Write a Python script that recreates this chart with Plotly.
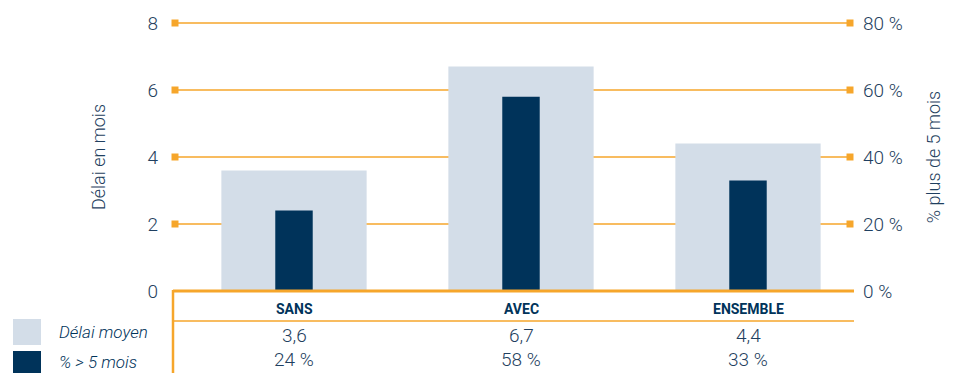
import plotly.graph_objects as go

categories = ["SANS", "AVEC", "ENSEMBLE"]
delai_moyen = [3.6, 6.7, 4.4]
pct_plus_5 = [24, 58, 33]
delai_labels = ["3,6", "6,7", "4,4"]
pct_labels = ["24 %", "58 %", "33 %"]
left_ticks = [0, 2, 4, 6, 8]
right_ticks = [0, 20, 40, 60, 80]
right_tick_labels = ["0 %", "20 %", "40 %", "60 %", "80 %"]

LIGHT = "#d3dde8"
DARK = "#00335a"
TEXT = "#1f3f60"
ORANGE = "#f6a62b"
FONT = "Roboto, sans-serif"

W, H = 959, 373
ML, MR, MT, MB = 175, 109, 23, 82
PW, PH = W - ML - MR, H - MT - MB
YMAX = left_ticks[-1]

def px_x(p):
    return (p - ML) / PW

def px_y(p):
    return (H - MB - p) / PH

x_idx = list(range(len(categories)))
r0 = -(294 - ML) / 227.0
r1 = r0 + PW / 227.0

fig = go.Figure()
fig.add_trace(go.Bar(x=x_idx, y=delai_moyen, width=0.64, marker_color=LIGHT,
                     marker_line_width=0, yaxis="y", showlegend=False, hoverinfo="skip"))
fig.add_trace(go.Bar(x=x_idx, y=pct_plus_5, width=0.165, marker_color=DARK,
                     marker_line_width=0, yaxis="y2", showlegend=False, hoverinfo="skip"))

mx, my = [], []
for t in left_ticks[1:]:
    mx += [r0, r1]
    my += [t, t]
fig.add_trace(go.Scatter(x=mx, y=my, mode="markers", marker=dict(symbol="square", size=7, color=ORANGE),
                         cliponaxis=False, showlegend=False, hoverinfo="skip", yaxis="y"))

shapes = []
for t in left_ticks[1:]:
    shapes.append(dict(type="line", xref="paper", yref="paper", x0=0, x1=1,
                       y0=t / YMAX, y1=t / YMAX,
                       line=dict(color=ORANGE, width=1.3), layer="below"))
shapes.append(dict(type="line", xref="paper", yref="paper", x0=px_x(173), x1=px_x(854),
                   y0=px_y(291), y1=px_y(291), line=dict(color=ORANGE, width=3)))
shapes.append(dict(type="line", xref="paper", yref="paper", x0=px_x(173), x1=px_x(854),
                   y0=px_y(321), y1=px_y(321), line=dict(color=ORANGE, width=1.5)))
shapes.append(dict(type="line", xref="paper", yref="paper", x0=px_x(173), x1=px_x(173),
                   y0=px_y(290), y1=px_y(373), line=dict(color=ORANGE, width=2.5)))
shapes.append(dict(type="rect", xref="paper", yref="paper", x0=px_x(13), x1=px_x(41),
                   y0=px_y(319), y1=px_y(345), fillcolor=LIGHT, line=dict(width=0)))
shapes.append(dict(type="rect", xref="paper", yref="paper", x0=px_x(13), x1=px_x(41),
                   y0=px_y(351), y1=px_y(373), fillcolor=DARK, line=dict(width=0)))

ann = []
for i, c in enumerate(categories):
    ann.append(dict(x=i, xref="x", y=px_y(309), yref="paper", text="<b>%s</b>" % c, showarrow=False,
                    font=dict(family="Roboto, sans-serif", size=14, color=DARK), yanchor="middle"))
    ann.append(dict(x=i, xref="x", y=px_y(335), yref="paper", text=delai_labels[i], showarrow=False,
                    font=dict(family=FONT, size=19, color=TEXT, weight=300), yanchor="middle"))
    ann.append(dict(x=i, xref="x", y=px_y(359), yref="paper", text=pct_labels[i], showarrow=False,
                    font=dict(family=FONT, size=19, color=TEXT, weight=300), yanchor="middle"))
ann.append(dict(x=px_x(57), xref="paper", y=px_y(332), yref="paper", text="<i>Délai moyen</i>",
                showarrow=False, xanchor="left", yanchor="middle",
                font=dict(family=FONT, size=17, color=DARK)))
ann.append(dict(x=px_x(57), xref="paper", y=px_y(362), yref="paper", text="<i>% > 5 mois</i>",
                showarrow=False, xanchor="left", yanchor="middle",
                font=dict(family=FONT, size=17, color=DARK)))

fig.update_layout(
    width=W, height=H, margin=dict(l=ML, r=MR, t=MT, b=MB),
    paper_bgcolor="white", plot_bgcolor="white", barmode="overlay",
    font=dict(family=FONT, color=TEXT, size=18, weight=300),
    xaxis=dict(range=[r0, r1], showticklabels=False, showgrid=False, zeroline=False, showline=False,
               fixedrange=True),
    yaxis=dict(range=[0, YMAX], tickvals=left_ticks, showgrid=False, zeroline=False, showline=False,
               ticks="", ticklabelstandoff=16, tickfont=dict(size=19, weight=300),
               title=dict(text="Délai en mois", standoff=37,
                          font=dict(size=18, color=TEXT, weight=300))),
    yaxis2=dict(range=[0, 80], tickvals=right_ticks, ticktext=right_tick_labels, overlaying="y",
                side="right", showgrid=False, zeroline=False, showline=False, ticks="",
                ticklabelstandoff=12, tickfont=dict(size=19, weight=300),
                title=dict(text="% plus de 5 mois", standoff=25,
                           font=dict(size=18, color=TEXT, weight=300))),
    shapes=shapes, annotations=ann,
)
fig.write_html("out.html")
